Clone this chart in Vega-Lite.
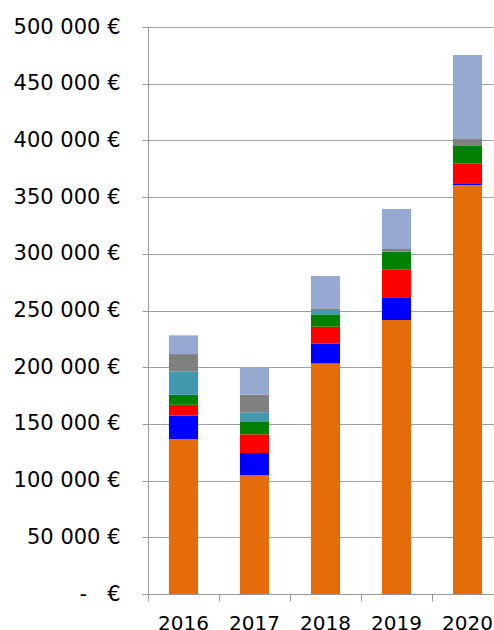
{
  "$schema": "https://vega.github.io/schema/vega-lite/v6.json",
  "width": 346,
  "height": 567,
  "autosize": {"type": "none"},
  "padding": {"left": 148, "top": 27, "right": 0, "bottom": 36},
  "background": "white",
  "config": {"view": {"stroke": null}, "font": "DejaVu Sans"},
  "data": {
    "values": [
      {"year": "2016", "cat": "A", "k": 1, "value": 136700},
      {"year": "2016", "cat": "B", "k": 2, "value": 20500},
      {"year": "2016", "cat": "C", "k": 3, "value": 9700},
      {"year": "2016", "cat": "D", "k": 4, "value": 8800},
      {"year": "2016", "cat": "E", "k": 5, "value": 20300},
      {"year": "2016", "cat": "F", "k": 6, "value": 15600},
      {"year": "2016", "cat": "G", "k": 7, "value": 16500},
      {"year": "2017", "cat": "A", "k": 1, "value": 104900},
      {"year": "2017", "cat": "B", "k": 2, "value": 19400},
      {"year": "2017", "cat": "C", "k": 3, "value": 16500},
      {"year": "2017", "cat": "D", "k": 4, "value": 10900},
      {"year": "2017", "cat": "E", "k": 5, "value": 8500},
      {"year": "2017", "cat": "F", "k": 6, "value": 15600},
      {"year": "2017", "cat": "G", "k": 7, "value": 24100},
      {"year": "2018", "cat": "A", "k": 1, "value": 203400},
      {"year": "2018", "cat": "B", "k": 2, "value": 17300},
      {"year": "2018", "cat": "C", "k": 3, "value": 15000},
      {"year": "2018", "cat": "D", "k": 4, "value": 10900},
      {"year": "2018", "cat": "E", "k": 5, "value": 3800},
      {"year": "2018", "cat": "F", "k": 6, "value": 1500},
      {"year": "2018", "cat": "G", "k": 7, "value": 28500},
      {"year": "2019", "cat": "A", "k": 1, "value": 241600},
      {"year": "2019", "cat": "B", "k": 2, "value": 20000},
      {"year": "2019", "cat": "C", "k": 3, "value": 24700},
      {"year": "2019", "cat": "D", "k": 4, "value": 15600},
      {"year": "2019", "cat": "E", "k": 5, "value": 0},
      {"year": "2019", "cat": "F", "k": 6, "value": 2300},
      {"year": "2019", "cat": "G", "k": 7, "value": 35300},
      {"year": "2020", "cat": "A", "k": 1, "value": 360700},
      {"year": "2020", "cat": "B", "k": 2, "value": 900},
      {"year": "2020", "cat": "C", "k": 3, "value": 18200},
      {"year": "2020", "cat": "D", "k": 4, "value": 15300},
      {"year": "2020", "cat": "E", "k": 5, "value": 0},
      {"year": "2020", "cat": "F", "k": 6, "value": 6100},
      {"year": "2020", "cat": "G", "k": 7, "value": 74100}
    ]
  },
  "mark": {"type": "bar", "width": {"band": 0.41}},
  "encoding": {
    "x": {
      "field": "year",
      "type": "nominal",
      "title": null,
      "scale": {"paddingInner": 0, "paddingOuter": 0, "range": [0, 355]},
      "axis": {
        "bandPosition": 0,
        "labelAngle": 0,
        "labelFontSize": 20,
        "labelColor": "#000000",
        "labelPadding": 12,
        "tickSize": 7,
        "tickColor": "#999999",
        "domainColor": "#999999",
        "grid": false
      }
    },
    "y": {
      "field": "value",
      "type": "quantitative",
      "stack": "zero",
      "title": null,
      "scale": {"domain": [0, 500000], "nice": false},
      "axis": {
        "values": [0, 50000, 100000, 150000, 200000, 250000, 300000, 350000, 400000, 450000, 500000],
        "labelExpr": "datum.value == 0 ? '-\u00a0\u00a0\u00a0€' : replace(format(datum.value, ','), regexp(',', 'g'), '\u00a0') + '\u00a0€'",
        "labelFontSize": 21,
        "labelColor": "#000000",
        "labelPadding": 22,
        "tickSize": 6,
        "tickColor": "#999999",
        "domainColor": "#999999",
        "gridColor": "#a0a0a0",
        "gridWidth": 1
      }
    },
    "order": {"field": "k", "type": "quantitative", "sort": "ascending"},
    "color": {
      "field": "cat",
      "type": "nominal",
      "legend": null,
      "scale": {
        "domain": ["A", "B", "C", "D", "E", "F", "G"],
        "range": ["#E46C0A", "#0000FF", "#FF0000", "#008000", "#4397AF", "#808080", "#95A9D1"]
      }
    }
  }
}
